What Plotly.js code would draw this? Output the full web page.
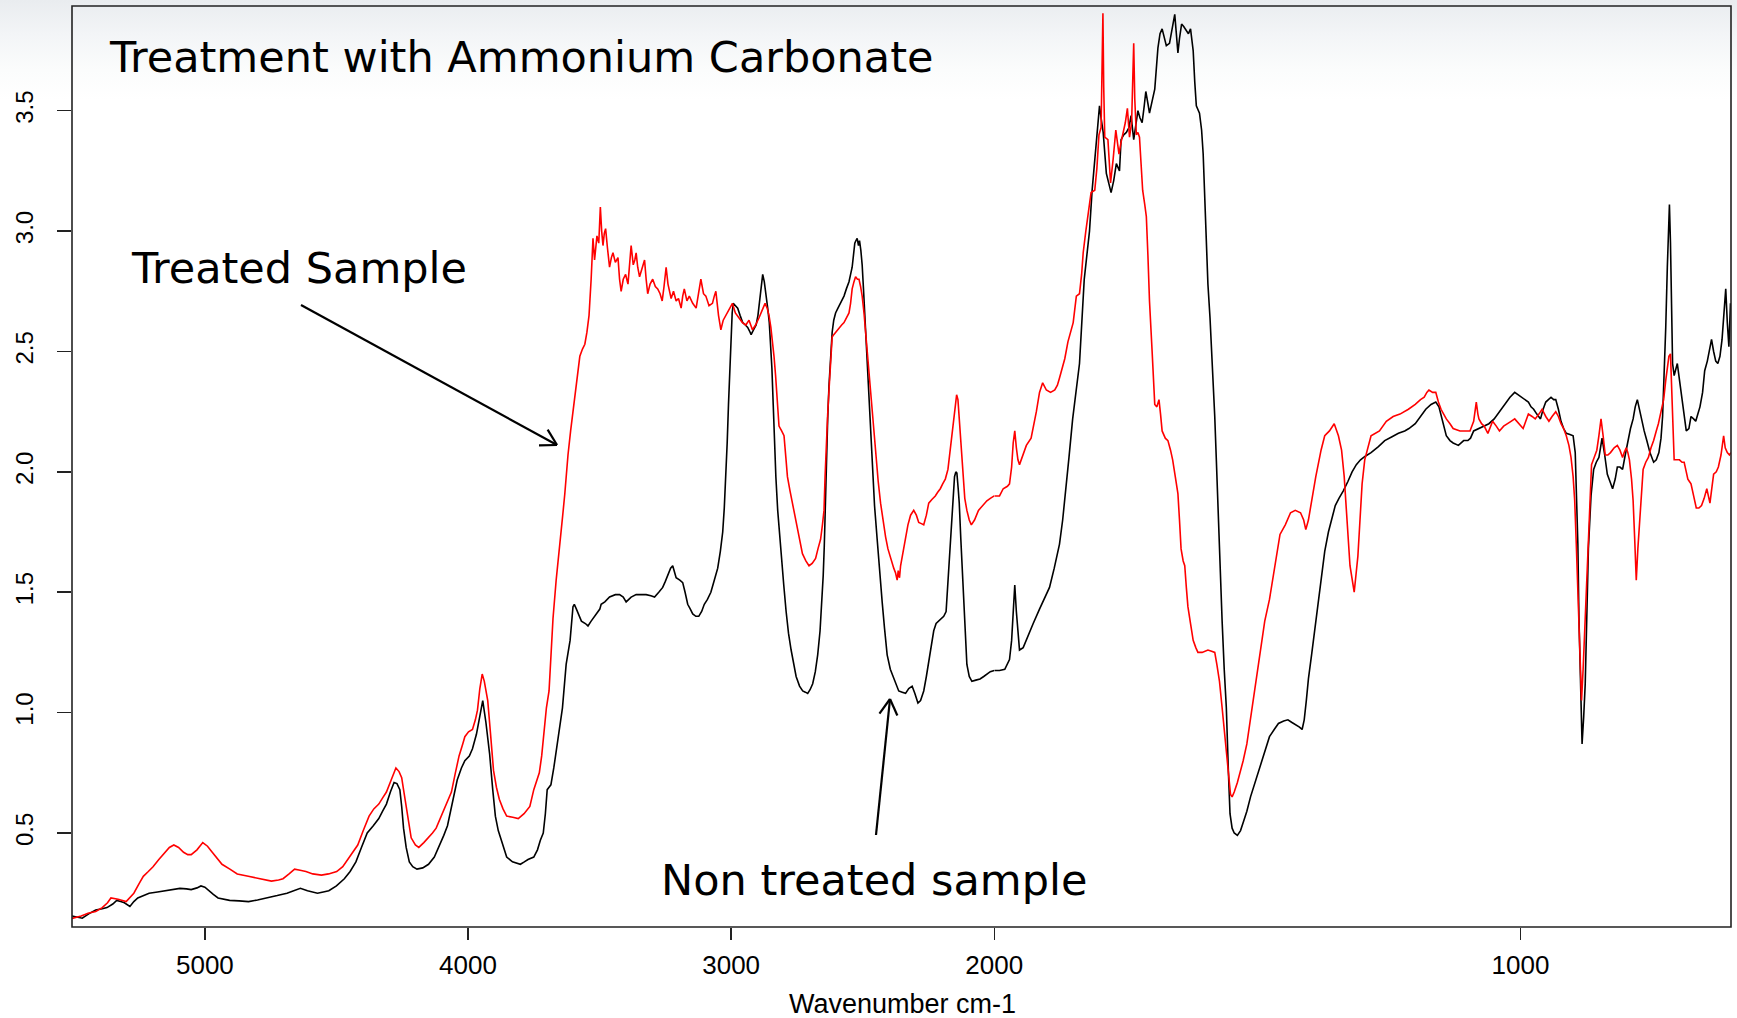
<!DOCTYPE html>
<html>
<head>
<meta charset="utf-8">
<script src="https://cdn.plot.ly/plotly-3.0.1.min.js"></script>
<style>
  html, body { margin: 0; padding: 0; }
  body {
    width: 1737px; height: 1018px; overflow: hidden;
    background: linear-gradient(to bottom, #e9ecef 0px, #f3f5f7 35px, #fbfcfc 70px, #ffffff 100px);
  }
  #chart { width: 1737px; height: 1018px; }
</style>
</head>
<body>
<div id="chart"></div>
<script>
// ---------------- data ----------------
const chartTitle = "Treatment with Ammonium Carbonate";
const labelTreated = "Treated Sample";
const labelNonTreated = "Non treated sample";
const xAxisTitle = "Wavenumber cm-1";

const xTicksHigh = [5000, 4000, 3000, 2000];   // wavenumbers drawn at 1x scale
const xTicksLow = [1000];                        // wavenumbers drawn at 2x scale
const yTicks = [0.5, 1.0, 1.5, 2.0, 2.5, 3.0, 3.5];

// Non treated sample (black)
const wnBlack = [5505,5466,5440,5415,5390,5372,5350,5335,5320,5306,5285,5270,5255,5235,5212,5180,5153,5120,5095,5070,5052,5030,5015,5000,4986,4968,4950,4930,4906,4870,4834,4800,4761,4725,4688,4660,4637,4610,4572,4550,4529,4500,4470,4448,4426,4405,4383,4360,4339,4325,4310,4295,4281,4270,4259,4252,4245,4235,4223,4210,4194,4172,4150,4128,4107,4092,4078,4060,4041,4025,4012,3995,3983,3968,3955,3944,3932,3918,3906,3896,3885,3874,3853,3831,3815,3801,3786,3772,3750,3736,3725,3714,3706,3699,3692,3685,3674,3663,3652,3641,3627,3620,3612,3601,3596,3588,3569,3554,3544,3532,3519,3499,3494,3480,3462,3440,3424,3410,3399,3380,3361,3340,3323,3305,3291,3275,3260,3250,3241,3230,3222,3215,3209,3195,3184,3175,3165,3155,3146,3134,3123,3112,3102,3090,3077,3064,3051,3041,3032,3026,3020,3015,3010,3005,3001,2996,2992,2984,2975,2966,2956,2946,2937,2930,2924,2915,2905,2898,2893,2886,2880,2874,2867,2861,2855,2850,2845,2840,2836,2830,2823,2817,2810,2800,2791,2782,2772,2762,2753,2740,2728,2718,2709,2700,2690,2680,2671,2662,2655,2650,2646,2642,2638,2633,2628,2622,2616,2610,2603,2594,2584,2578,2571,2562,2552,2546,2540,2535,2530,2526,2521,2516,2512,2507,2502,2497,2492,2486,2479,2472,2464,2455,2445,2436,2426,2417,2407,2395,2382,2372,2363,2350,2337,2325,2312,2302,2290,2280,2268,2258,2249,2240,2230,2221,2211,2200,2192,2183,2176,2168,2161,2155,2151,2146,2142,2137,2133,2127,2120,2112,2104,2095,2085,2070,2054,2040,2029,2015,2000,
  1990,1980,1975,1971,1967,1964,1961,1958,1955,1952,1945,1936,1926,1914,1905,1895,1886,1876,1870,1864,1858,1851,1844,1838,1829,1819,1814,1809,1804,1800,1797,1793,1787,1782,1778,1773,1768,1762,1759,1754,1749,1744,1740,1735,1731,1727,1723,1719,1715,1712,1708,1705,1700,1695,1689,1685,1681,1677,1673,1667,1662,1657,1654,1651,1648,1644,1640,1635,1631,1627,1622,1619,1616,1610,1606,1603,1600,1597,1594,1590,1587,1584,1581,1578,1575,1571,1567,1563,1559,1555,1552,1548,1544,1538,1532,1526,1520,1513,1506,1498,1491,1484,1477,1468,1460,1450,1442,1435,1427,1420,1415,1411,1407,1403,1397,1390,1384,1379,1372,1365,1358,1352,1345,1337,1328,1320,1312,1304,1295,1284,1270,1258,1245,1232,1220,1212,1200,1193,1186,1180,1170,1161,1155,1150,1145,1141,1134,1128,1118,1108,1100,1095,1089,1080,1069,1060,1050,1040,1030,1020,1011,1004,998,991,985,980,975,969,962,957,952,947,942,937,933,928,923,918,913,906,900,896,894,891,889,886,883,880,877,874,871,866,861,856,851,848,845,840,835,830,825,820,816,811,806,801,796,791,786,782,778,774,770,765,760,754,747,742,737,733,730,727,724,721,719,717,715,713,711,708,705,702,699,695,690,685,680,676,671,667,663,659,654,650,645,641,637,633,629,625,621,617,613,610,607,604,601];
const absBlack = [0.155,0.146,0.165,0.18,0.185,0.19,0.205,0.22,0.215,0.21,0.195,0.215,0.23,0.24,0.25,0.255,0.26,0.265,0.27,0.268,0.265,0.272,0.28,0.275,0.26,0.245,0.23,0.225,0.22,0.218,0.215,0.222,0.23,0.24,0.25,0.262,0.27,0.26,0.25,0.255,0.26,0.28,0.31,0.34,0.38,0.44,0.5,0.53,0.56,0.59,0.62,0.67,0.71,0.705,0.68,0.61,0.52,0.44,0.38,0.36,0.35,0.355,0.37,0.4,0.45,0.49,0.53,0.62,0.72,0.77,0.8,0.82,0.85,0.91,0.99,1.05,0.96,0.83,0.68,0.57,0.51,0.47,0.4,0.38,0.375,0.37,0.38,0.39,0.4,0.43,0.47,0.5,0.58,0.68,0.69,0.7,0.77,0.85,0.93,1.02,1.2,1.24,1.3,1.44,1.45,1.43,1.38,1.37,1.36,1.38,1.4,1.43,1.45,1.46,1.48,1.49,1.49,1.48,1.46,1.48,1.49,1.49,1.49,1.485,1.48,1.5,1.52,1.545,1.57,1.6,1.61,1.58,1.56,1.55,1.54,1.5,1.45,1.43,1.41,1.4,1.4,1.42,1.45,1.47,1.5,1.55,1.6,1.67,1.75,1.85,1.98,2.12,2.28,2.43,2.58,2.66,2.7,2.69,2.68,2.65,2.62,2.61,2.6,2.585,2.57,2.59,2.61,2.65,2.7,2.77,2.82,2.79,2.74,2.68,2.62,2.53,2.43,2.28,2.13,1.98,1.84,1.75,1.66,1.53,1.42,1.33,1.26,1.2,1.15,1.11,1.09,1.085,1.08,1.095,1.12,1.17,1.24,1.34,1.46,1.57,1.69,1.88,2.06,2.22,2.36,2.48,2.58,2.63,2.66,2.68,2.7,2.715,2.73,2.76,2.79,2.82,2.85,2.9,2.95,2.96,2.97,2.94,2.96,2.92,2.86,2.76,2.65,2.51,2.36,2.19,2.01,1.86,1.72,1.58,1.46,1.35,1.24,1.18,1.14,1.11,1.09,1.085,1.08,1.1,1.11,1.08,1.04,1.05,1.09,1.15,1.21,1.28,1.34,1.37,1.38,1.39,1.4,1.42,1.54,1.69,1.84,1.93,1.98,2.0,1.995,1.93,1.87,1.72,1.54,1.35,1.2,1.15,1.13,1.135,1.14,1.15,1.16,1.17,1.175,
  1.175,1.18,1.2,1.22,1.3,1.42,1.53,1.42,1.32,1.26,1.27,1.32,1.37,1.43,1.47,1.52,1.6,1.7,1.8,1.92,2.06,2.22,2.34,2.45,2.8,3.0,3.17,3.3,3.42,3.52,3.47,3.41,3.24,3.19,3.16,3.21,3.28,3.25,3.38,3.4,3.41,3.43,3.48,3.38,3.45,3.5,3.47,3.45,3.52,3.58,3.53,3.49,3.54,3.59,3.76,3.82,3.84,3.8,3.77,3.78,3.84,3.9,3.82,3.74,3.8,3.86,3.85,3.83,3.82,3.84,3.75,3.62,3.52,3.49,3.42,3.32,3.13,2.95,2.78,2.64,2.51,2.38,2.23,2.05,1.85,1.6,1.38,1.18,1.02,0.75,0.58,0.52,0.5,0.49,0.51,0.55,0.59,0.65,0.7,0.76,0.81,0.86,0.9,0.93,0.955,0.965,0.97,0.96,0.95,0.94,0.93,0.97,1.05,1.14,1.24,1.36,1.48,1.57,1.67,1.75,1.81,1.86,1.89,1.92,1.96,2.0,2.03,2.05,2.065,2.08,2.105,2.13,2.145,2.16,2.17,2.18,2.2,2.22,2.24,2.26,2.28,2.29,2.27,2.23,2.18,2.15,2.13,2.12,2.11,2.13,2.13,2.14,2.17,2.18,2.19,2.2,2.22,2.25,2.28,2.31,2.33,2.32,2.31,2.3,2.29,2.27,2.26,2.24,2.22,2.26,2.29,2.3,2.31,2.3,2.3,2.26,2.21,2.18,2.16,2.155,2.15,2.08,1.96,1.7,1.4,1.1,0.87,0.98,1.12,1.4,1.68,1.9,2.01,2.04,2.06,2.1,2.14,2.07,1.99,1.96,1.93,1.97,2.02,2.02,2.01,2.07,2.13,2.18,2.22,2.27,2.3,2.26,2.21,2.17,2.13,2.08,2.04,2.05,2.08,2.14,2.23,2.4,2.6,2.85,3.0,3.11,2.95,2.7,2.45,2.4,2.42,2.45,2.4,2.34,2.25,2.17,2.18,2.23,2.22,2.21,2.24,2.27,2.33,2.42,2.46,2.5,2.55,2.5,2.46,2.45,2.48,2.55,2.7,2.76,2.62,2.52,2.7];

// Treated sample (red)
const wnRed = [5505,5470,5444,5415,5390,5370,5357,5330,5299,5285,5270,5250,5234,5215,5197,5175,5153,5135,5118,5100,5081,5065,5052,5030,5008,4990,4972,4955,4935,4905,4877,4835,4790,4747,4720,4703,4680,4659,4638,4616,4590,4557,4530,4499,4476,4456,4438,4419,4398,4376,4358,4339,4325,4310,4292,4280,4274,4262,4252,4245,4237,4227,4216,4200,4187,4168,4150,4135,4121,4105,4092,4078,4063,4048,4034,4020,4012,3998,3983,3972,3964,3955,3946,3938,3925,3915,3903,3892,3881,3867,3853,3830,3809,3787,3765,3750,3740,3729,3720,3714,3702,3692,3685,3677,3665,3651,3640,3632,3626,3620,3610,3601,3590,3575,3565,3556,3548,3540,3532,3525,3519,3510,3503,3497,3492,3487,3482,3477,3470,3462,3455,3449,3440,3430,3424,3418,3410,3401,3392,3385,3380,3372,3366,3361,3355,3348,3340,3329,3323,3317,3308,3298,3288,3279,3270,3262,3255,3247,3240,3228,3219,3209,3200,3190,3184,3178,3168,3159,3146,3133,3124,3115,3105,3096,3084,3071,3064,3058,3048,3039,3030,3020,3008,2995,2984,2970,2957,2944,2932,2919,2907,2894,2882,2871,2863,2856,2849,2843,2837,2831,2824,2818,2808,2799,2792,2786,2776,2767,2757,2748,2738,2729,2716,2704,2692,2679,2670,2660,2653,2647,2643,2638,2633,2628,2622,2616,2610,2603,2596,2590,2580,2571,2562,2552,2546,2540,2533,2527,2520,2514,2508,2502,2495,2489,2483,2477,2470,2464,2457,2451,2441,2432,2423,2413,2404,2394,2382,2375,2369,2365,2360,2356,2346,2337,2328,2318,2306,2296,2287,2277,2268,2258,2249,2237,2224,2215,2205,2196,2186,2176,2167,2160,2154,2148,2143,2138,2133,2127,2120,2112,2104,2095,2087,2075,2060,2045,2028,2015,2000,
  1990,1983,1975,1971,1967,1964,1961,1958,1955,1952,1946,1939,1930,1925,1920,1914,1908,1901,1893,1885,1880,1876,1871,1866,1860,1855,1850,1844,1838,1834,1831,1826,1822,1816,1809,1805,1801,1797,1795,1793.5,1792,1790,1784,1779,1774,1769,1766,1763,1759,1755,1751,1747,1743,1739,1736.5,1735,1733,1730,1727,1724,1721,1718,1714,1711,1708,1705,1700,1695,1691,1687,1684,1681,1675,1670,1665,1661,1656,1651,1648,1645,1641,1638,1635,1632,1627,1622,1617,1613,1605,1594,1587,1581,1577,1572,1567,1563,1559,1555,1551,1548,1544,1538,1533,1527,1520,1514,1509,1505,1496,1486,1477,1470,1463,1457,1447,1437,1428,1418,1412,1408,1403,1398,1389,1379,1372,1363,1354,1346,1340,1335,1330,1324,1316,1309,1305,1301,1296,1291,1284,1268,1255,1242,1229,1213,1200,1190,1183,1178,1174,1167,1161,1156,1151,1146,1141,1134,1128,1115,1104,1096,1089,1086,1084,1081,1079,1074,1069,1062,1057,1053,1046,1040,1032,1024,1018,1011,1003,995,990,985,978,972,965,959,952,946,940,933,928,923,918,913,908,904,900,897,894,890,887,884,881,878,874,871,868,865,860,855,851,847,843,839,834,829,822,816,811,806,803,799,796,793,789,786,783,780,777,773,770,767,762,757,752,747,742,738,733,728,724,721,718,715,712,710,708,703,698,693,689,685,682,679,676,671,666,661,656,651,646,643,640,636,633,628,624,619,616,614,611,607,603,600];
const absRed = [0.145,0.155,0.167,0.174,0.19,0.21,0.23,0.225,0.215,0.23,0.25,0.29,0.32,0.34,0.36,0.39,0.42,0.44,0.45,0.44,0.42,0.41,0.41,0.43,0.46,0.445,0.42,0.395,0.37,0.35,0.33,0.32,0.31,0.3,0.305,0.31,0.33,0.35,0.345,0.34,0.33,0.325,0.33,0.34,0.36,0.39,0.42,0.45,0.51,0.57,0.6,0.62,0.645,0.67,0.72,0.76,0.77,0.755,0.73,0.68,0.62,0.55,0.48,0.45,0.44,0.46,0.48,0.5,0.52,0.56,0.59,0.63,0.67,0.75,0.82,0.87,0.9,0.92,0.93,0.97,1.01,1.1,1.16,1.13,1.05,0.92,0.76,0.69,0.64,0.6,0.57,0.565,0.56,0.58,0.61,0.68,0.71,0.75,0.82,0.88,1.02,1.09,1.25,1.39,1.55,1.69,1.82,1.91,2.0,2.07,2.17,2.25,2.36,2.48,2.51,2.53,2.58,2.65,2.8,2.97,2.88,2.98,2.95,3.1,3.0,2.94,2.99,3.01,2.93,2.85,2.89,2.91,2.87,2.89,2.8,2.75,2.8,2.82,2.78,2.86,2.94,2.86,2.88,2.91,2.85,2.81,2.84,2.88,2.8,2.74,2.78,2.8,2.77,2.76,2.74,2.71,2.77,2.85,2.78,2.72,2.75,2.71,2.72,2.68,2.73,2.76,2.71,2.73,2.7,2.68,2.74,2.8,2.74,2.73,2.69,2.7,2.73,2.75,2.65,2.59,2.63,2.65,2.68,2.7,2.66,2.64,2.62,2.61,2.63,2.59,2.61,2.64,2.67,2.7,2.68,2.65,2.6,2.55,2.48,2.4,2.3,2.19,2.17,2.15,2.06,1.98,1.92,1.87,1.81,1.75,1.7,1.66,1.63,1.61,1.62,1.64,1.68,1.72,1.78,1.84,1.98,2.14,2.24,2.34,2.46,2.56,2.57,2.58,2.59,2.6,2.61,2.62,2.64,2.66,2.7,2.76,2.79,2.81,2.8,2.8,2.77,2.73,2.66,2.58,2.5,2.43,2.34,2.25,2.15,2.06,1.96,1.87,1.8,1.73,1.68,1.64,1.6,1.58,1.55,1.59,1.56,1.61,1.67,1.73,1.78,1.82,1.84,1.82,1.79,1.785,1.78,1.82,1.87,1.885,1.9,1.915,1.93,1.95,1.97,2.01,2.1,2.16,2.22,2.29,2.32,2.3,2.22,2.12,2.01,1.89,1.84,1.8,1.78,1.8,1.84,1.86,1.88,1.89,1.9,
  1.9,1.93,1.94,1.95,2.02,2.12,2.17,2.1,2.05,2.03,2.07,2.11,2.14,2.19,2.25,2.33,2.37,2.34,2.33,2.34,2.36,2.39,2.43,2.47,2.54,2.58,2.62,2.73,2.74,2.82,2.91,3.0,3.07,3.16,3.17,3.26,3.4,3.43,3.7,3.905,3.6,3.39,3.38,3.2,3.3,3.42,3.37,3.32,3.37,3.41,3.45,3.51,3.39,3.45,3.65,3.78,3.55,3.4,3.41,3.39,3.28,3.17,3.11,3.06,2.9,2.71,2.5,2.28,2.27,2.3,2.24,2.17,2.14,2.13,2.09,2.05,1.98,1.91,1.8,1.68,1.63,1.61,1.52,1.44,1.37,1.3,1.27,1.25,1.25,1.26,1.255,1.25,1.2,1.13,1.02,0.93,0.84,0.74,0.66,0.65,0.67,0.71,0.75,0.8,0.87,0.96,1.05,1.1,1.24,1.38,1.47,1.57,1.66,1.74,1.78,1.83,1.84,1.83,1.8,1.76,1.8,1.87,1.98,2.09,2.15,2.17,2.2,2.15,2.09,1.98,1.82,1.61,1.5,1.65,1.8,1.95,2.05,2.09,2.15,2.17,2.21,2.23,2.24,2.26,2.28,2.3,2.31,2.33,2.34,2.33,2.33,2.29,2.26,2.24,2.22,2.2,2.18,2.17,2.17,2.17,2.21,2.26,2.29,2.24,2.22,2.2,2.19,2.16,2.19,2.21,2.19,2.17,2.19,2.2,2.21,2.22,2.2,2.18,2.21,2.24,2.23,2.22,2.24,2.26,2.23,2.21,2.23,2.25,2.23,2.2,2.18,2.15,2.11,2.06,1.98,1.88,1.7,1.47,1.25,1.05,1.18,1.33,1.55,1.74,1.9,2.03,2.06,2.09,2.15,2.22,2.15,2.07,2.07,2.08,2.1,2.11,2.09,2.06,2.08,2.1,2.08,2.05,1.97,1.88,1.72,1.55,1.68,1.81,1.92,2.01,2.04,2.06,2.1,2.13,2.17,2.2,2.25,2.3,2.38,2.44,2.48,2.49,2.3,2.12,2.05,2.05,2.05,2.04,2.04,2.0,1.97,1.96,1.95,1.9,1.85,1.85,1.86,1.89,1.93,1.9,1.87,1.94,1.99,2.0,2.02,2.07,2.12,2.15,2.1,2.08,2.07,2.08];

// ---------------- geometry of the figure (pixels) ----------------
const W = 1737, H = 1018;
const M = {l: 72, r: 6, t: 6, b: 91};
const plotW = W - M.l - M.r, plotH = H - M.t - M.b;
const xHigh = [5505, 1999.99];   // left part of the axis
const xLow = [2000, 600];        // right part, drawn at twice the scale
const splitFrac = (xHigh[0] - 2000) / ((xHigh[0] - 2000) + 2 * (xLow[0] - xLow[1]));

function part(wn, ab, keep) {
  const x = [], y = [];
  for (let i = 0; i < wn.length; i++) if (keep(wn[i])) { x.push(wn[i]); y.push(ab[i]); }
  return {x, y};
}
const bHi = part(wnBlack, absBlack, w => w >= 2000);
const bLo = part(wnBlack, absBlack, w => w <= 2000);
const rHi = part(wnRed, absRed, w => w >= 2000);
const rLo = part(wnRed, absRed, w => w <= 2000);

const lineBlack = {color: '#000000', width: 1.6};
const lineRed = {color: '#ff0000', width: 1.6};
const traces = [
  {x: bHi.x, y: bHi.y, xaxis: 'x', yaxis: 'y', mode: 'lines', line: lineBlack, name: labelNonTreated, hoverinfo: 'skip'},
  {x: bLo.x, y: bLo.y, xaxis: 'x2', yaxis: 'y', mode: 'lines', line: lineBlack, name: labelNonTreated, hoverinfo: 'skip'},
  {x: rHi.x, y: rHi.y, xaxis: 'x', yaxis: 'y', mode: 'lines', line: lineRed, name: labelTreated, hoverinfo: 'skip'},
  {x: rLo.x, y: rLo.y, xaxis: 'x2', yaxis: 'y', mode: 'lines', line: lineRed, name: labelTreated, hoverinfo: 'skip'}
];

// pixel -> paper helpers (for annotations only)
const px = X => (X - M.l) / plotW;
const py = Y => (M.t + plotH - Y) / plotH;

function arrowShapes(tail, head) {
  const dx = tail[0] - head[0], dy = tail[1] - head[1];
  const L = Math.hypot(dx, dy), ux = dx / L, uy = dy / L;
  const len = 18, ang = 30 * Math.PI / 180;
  const out = [];
  const st = {color: '#000000', width: 2.2};
  out.push({type: 'line', xref: 'paper', yref: 'paper', x0: px(tail[0]), y0: py(tail[1]), x1: px(head[0]), y1: py(head[1]), line: st});
  for (const s of [1, -1]) {
    const c = Math.cos(s * ang), sn = Math.sin(s * ang);
    const bx = ux * c - uy * sn, by = ux * sn + uy * c;
    out.push({type: 'line', xref: 'paper', yref: 'paper', x0: px(head[0]), y0: py(head[1]),
      x1: px(head[0] + len * bx), y1: py(head[1] + len * by), line: st});
  }
  return out;
}

const tickFont = {family: 'Liberation Sans, Arial, sans-serif', size: 26, color: '#000000'};
const textFont = {family: 'DejaVu Sans, Verdana, sans-serif', size: 43, color: '#000000'};

const xCommon = {
  showgrid: false, zeroline: false, showline: false,
  ticks: 'outside', ticklen: 12, tickwidth: 1.5, tickcolor: '#222222',
  tickfont: tickFont, tickmode: 'array', anchor: 'y', ticklabelstandoff: 3
};

const layout = {
  width: W, height: H,
  margin: M,
  paper_bgcolor: 'rgba(0,0,0,0)',
  plot_bgcolor: 'rgba(0,0,0,0)',
  showlegend: false,
  xaxis: Object.assign({}, xCommon, {domain: [0, splitFrac], range: xHigh, tickvals: xTicksHigh, ticktext: xTicksHigh.map(String)}),
  xaxis2: Object.assign({}, xCommon, {domain: [splitFrac, 1], range: xLow, tickvals: xTicksLow, ticktext: xTicksLow.map(String)}),
  yaxis: {
    range: [0.1095, 3.935], showgrid: false, zeroline: false, showline: false,
    ticks: 'outside', ticklen: 14, tickwidth: 1.5, tickcolor: '#222222',
    tickmode: 'array', tickvals: yTicks, ticktext: yTicks.map(v => v.toFixed(1)),
    tickangle: -90, tickfont: {family: 'Liberation Sans, Arial, sans-serif', size: 24, color: '#000000'},
    ticklabelstandoff: 14
  },
  shapes: [
    {type: 'rect', xref: 'paper', yref: 'paper', x0: 0, y0: 0, x1: 1, y1: 1, line: {color: '#222222', width: 1.6}, fillcolor: 'rgba(0,0,0,0)'}
  ].concat(arrowShapes([301, 305], [557, 445]), arrowShapes([876, 835], [890, 699])),
  annotations: [
    {text: chartTitle, xref: 'paper', yref: 'paper', x: px(107), y: py(57), xanchor: 'left', yanchor: 'middle', showarrow: false, font: textFont},
    {text: labelTreated, xref: 'paper', yref: 'paper', x: px(129), y: py(268), xanchor: 'left', yanchor: 'middle', showarrow: false, font: textFont},
    {text: labelNonTreated, xref: 'paper', yref: 'paper', x: px(659), y: py(880), xanchor: 'left', yanchor: 'middle', showarrow: false, font: textFont},
    {text: xAxisTitle, xref: 'paper', yref: 'paper', x: px(902), y: py(1004), xanchor: 'center', yanchor: 'middle', showarrow: false,
     font: {family: 'Liberation Sans, Arial, sans-serif', size: 27, color: '#000000'}}
  ]
};

Plotly.newPlot('chart', traces, layout, {displayModeBar: false, staticPlot: true});
</script>
</body>
</html>
